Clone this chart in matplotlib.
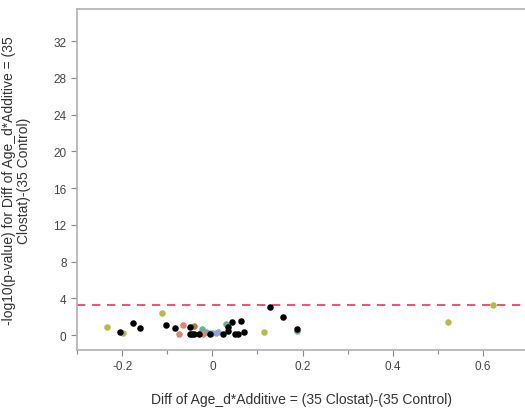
import matplotlib
matplotlib.use("Agg")
import matplotlib.pyplot as plt
from matplotlib.ticker import MultipleLocator

plt.rcParams['font.family'] = ['Liberation Sans', 'DejaVu Sans']

# data
x_black = [-0.205, -0.176, -0.160, -0.103, -0.083, -0.050, -0.050, -0.045, -0.040, -0.030,
           -0.006, 0.024, 0.034, 0.034, 0.044, 0.050, 0.057, 0.063, 0.070, 0.128, 0.156, 0.188]
y_black = [0.40, 1.30, 0.76, 1.16, 0.76, 0.90, 0.10, 0.10, 0.10, 0.10,
           0.10, 0.10, 0.90, 0.50, 1.45, 0.10, 0.10, 1.56, 0.30, 3.08, 2.03, 0.65]
x_olive = [-0.233, -0.199, -0.111, 0.114, 0.522, 0.623]
y_olive = [0.90, 0.25, 2.43, 0.30, 1.42, 3.30]
x_salmon = [-0.074, -0.066, -0.021]
y_salmon = [0.10, 1.16, 0.10]
x_teal = [-0.022, 0.031, 0.188, -0.015]
y_teal = [0.65, 1.20, 0.45, 0.40]
x_blue = [-0.008, 0.000, 0.008, 0.012]
y_blue = [0.25, 0.20, 0.25, 0.40]
x_brown = [-0.041]
y_brown = [1.00]
threshold = 3.27

xticks = [-0.2, 0, 0.2, 0.4, 0.6]
xticklabels = ["-0.2", "0", "0.2", "0.4", "0.6"]
yticks = [0, 4, 8, 12, 16, 20, 24, 28, 32]

fig = plt.figure(figsize=(5.25, 4.1), dpi=100)
ax = fig.add_axes([0.1467, 0.144, 0.8533, 0.8316])

s = 22
ax.scatter(x_blue, y_blue, s=s, color="#8fa3d8", zorder=3, linewidths=0)
ax.scatter(x_teal, y_teal, s=s, color="#5fb3a3", zorder=3, linewidths=0)
ax.scatter(x_salmon, y_salmon, s=s, color="#e8806e", zorder=3, linewidths=0)
ax.scatter(x_brown, y_brown, s=s, color="#b07a40", zorder=3, linewidths=0)
ax.scatter(x_olive, y_olive, s=s, color="#b8bb4c", zorder=3, linewidths=0)
ax.scatter(x_black, y_black, s=s, color="black", zorder=4, linewidths=0)

ax.axhline(threshold, color="#e8384f", linestyle=(0, (5, 4)), linewidth=1.2, zorder=2)

ax.set_xlim(-0.3, 0.693)
ax.set_ylim(-1.6, 35.5)
ax.set_xticks(xticks)
ax.set_xticklabels(xticklabels)
ax.xaxis.set_minor_locator(MultipleLocator(0.1))
ax.set_yticks(yticks)

for side in ["left", "top", "bottom"]:
    ax.spines[side].set_color("#b0b0b0")
    ax.spines[side].set_linewidth(1.2)
ax.spines["right"].set_visible(False)

ax.tick_params(axis="both", which="major", labelsize=8.5, colors="#888888",
               labelcolor="#444444", length=4, width=0.8)
ax.tick_params(axis="x", which="minor", length=3, colors="#888888", width=0.8)

ax.set_xlabel("Diff of Age_d*Additive = (35 Clostat)-(35 Control)", fontsize=10,
              color="#333333", labelpad=14)
ax.set_ylabel("-log10(p-value) for Diff of Age_d*Additive = (35\nClostat)-(35 Control)",
              fontsize=10, color="#333333", labelpad=16, linespacing=1.1,
              multialignment="center")

fig.savefig("out.png", dpi=100)
